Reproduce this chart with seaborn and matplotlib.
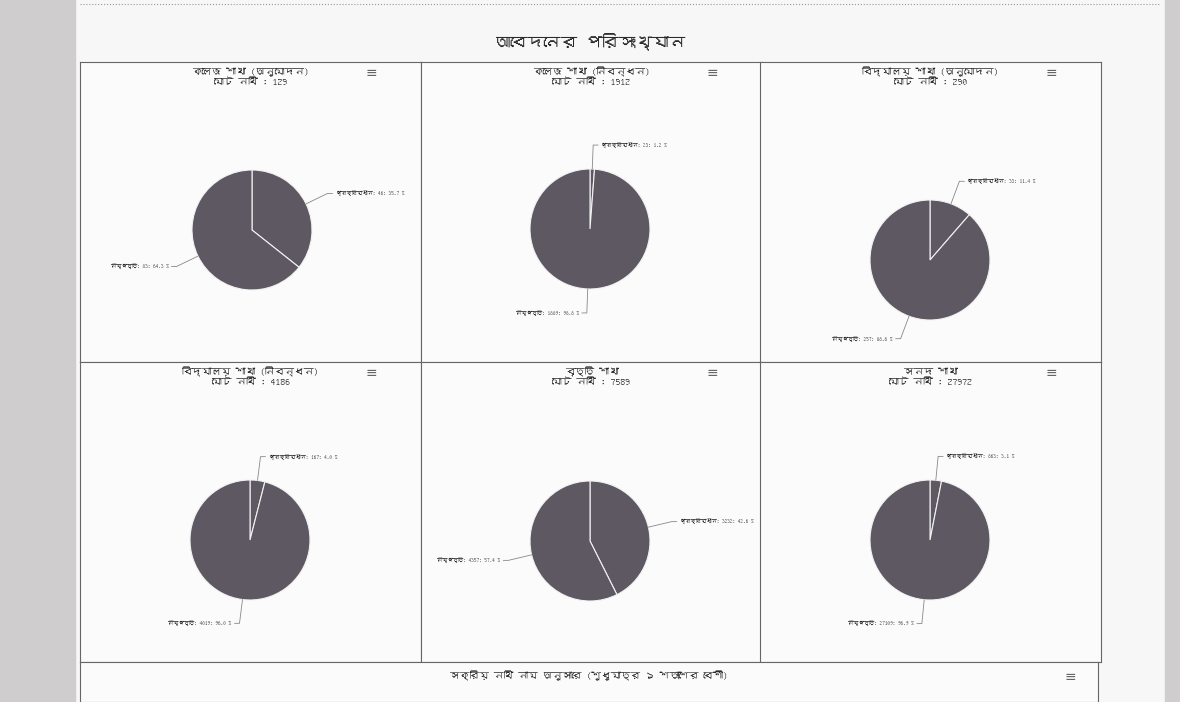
"""
আবেদনের পরিসংখ্যান - ছয়টি পাই চার্ট
"""

import numpy as np
import matplotlib
matplotlib.use('Agg')
import matplotlib.pyplot as plt
import seaborn as sns
from matplotlib import font_manager
from matplotlib.ft2font import FT2Font

# ---- data ----
main_title = 'আবেদনের পরিসংখ্যান'
chart_titles = ['কলেজ শাখা (অনুমোদন)', 'কলেজ শাখা (নিবন্ধন)', 'বিদ্যালয় শাখা (অনুমোদন)',
                'বিদ্যালয় শাখা (নিবন্ধন)', 'বৃত্তি শাখা', 'সনদ শাখা']
slice_names = ['প্রক্রিয়াধীন', 'নিষ্পত্তি']
pending = [46, 23, 33, 167, 3232, 863]
disposed = [83, 1889, 257, 4019, 4357, 27109]
bottom_title = 'সক্রিয় নথি নাম অনুসারে (শুধুমাত্র ১ শতাংশের বেশী)'

sns.set_theme(style='white')


def find_font(ch):
    for f in font_manager.fontManager.ttflist:
        try:
            if ord(ch) in FT2Font(f.fname).get_charmap():
                return f.name
        except Exception:
            pass
    return None


bn_font = find_font('ক')
families = ([bn_font] if bn_font else []) + ['DejaVu Sans']
plt.rcParams['font.family'] = families

W, H = 1180, 702
fig = plt.figure(figsize=(W / 100, H / 100), dpi=100)
fig.patch.set_facecolor('#f7f7f7')

# scan margins
fig.patches.append(plt.Rectangle((0, 0), 75 / W, 1, transform=fig.transFigure,
                                 color='#cfcdcd', zorder=0))
fig.patches.append(plt.Rectangle((1165 / W, 0), 15 / W, 1, transform=fig.transFigure,
                                 color='#cfcdcd', zorder=0))
fig.add_artist(plt.Line2D([80 / W, 1160 / W], [1 - 4 / H, 1 - 4 / H], transform=fig.transFigure,
                          color='#999999', lw=0.8, ls=':'))

fig.text(590 / W, 1 - 42 / H, main_title, ha='center', va='center', fontsize=12, color='#2a2a2a')

col_x = [80, 421, 760, 1098]
row_y = [62, 362, 662]
cw, ch = 341, 300
# pie centres inside each cell (pixels, from cell's top-left)
centres = [(172, 168), (169, 167), (170, 198), (170, 178), (169, 179), (170, 178)]
radius = 60
pie_color = '#5d5862'

for i in range(6):
    r, c = divmod(i, 3)
    x0 = col_x[c]
    y0 = row_y[r]
    ax = fig.add_axes([x0 / W, 1 - (y0 + ch) / H, cw / W, ch / H])
    ax.set_facecolor('#fbfbfb')

    total = pending[i] + disposed[i]
    vals = [pending[i], disposed[i]]
    cx, cy = centres[i][0], ch - centres[i][1]
    wedges, _ = ax.pie(vals, center=(cx, cy), radius=radius, startangle=90, counterclock=False,
                       colors=[pie_color, pie_color],
                       wedgeprops=dict(edgecolor='#f2f2f2', linewidth=0.8), frame=True)
    ax.set_xlim(0, cw)
    ax.set_ylim(0, ch)
    ax.set_aspect('auto')
    ax.set_xticks([])
    ax.set_yticks([])
    for s in ax.spines.values():
        s.set_color('#666666')
        s.set_linewidth(0.8)

    for w, name, v in zip(wedges, slice_names, vals):
        th = np.deg2rad((w.theta1 + w.theta2) / 2)
        ex, ey = cx + radius * np.cos(th), cy + radius * np.sin(th)
        lx, ly = cx + (radius + 24) * np.cos(th), cy + (radius + 24) * np.sin(th)
        side = 1 if np.cos(th) >= 0 else -1
        tx = lx + side * 8
        ax.plot([ex, lx, tx - side * 3], [ey, ly, ly], color='#888888', lw=0.6)
        pct = 100 * v / total
        ax.text(tx, ly, f'{name}: {v}: {pct:.1f} %', fontsize=3.8, color='#222222',
                ha='left' if side > 0 else 'right', va='center', fontweight='bold')

    ax.text(cw / 2, ch - 10, chart_titles[i], ha='center', va='center', fontsize=7, color='#2a2a2a')
    ax.text(cw / 2, ch - 20, f'মোট নথি : {total}', ha='center', va='center', fontsize=7,
            color='#2a2a2a')
    ax.text(cw - 50, ch - 11, '≡', ha='center', va='center', fontsize=10, color='#666666',
            family='DejaVu Sans')

# bottom panel
axb = fig.add_axes([80 / W, 0, (1098 - 80) / W, (H - 662) / H])
axb.set_xlim(0, 1018)
axb.set_ylim(0, H - 662)
axb.set_facecolor('#fbfbfb')
axb.set_xticks([])
axb.set_yticks([])
for s in axb.spines.values():
    s.set_color('#666666')
    s.set_linewidth(0.8)
axb.text(509, 26, bottom_title, ha='center', va='center', fontsize=7, color='#2a2a2a')
axb.text(1018 - 28, 25, '≡', ha='center', va='center', fontsize=10, color='#666666',
         family='DejaVu Sans')

fig.savefig('out.png', dpi=100, facecolor=fig.get_facecolor())
